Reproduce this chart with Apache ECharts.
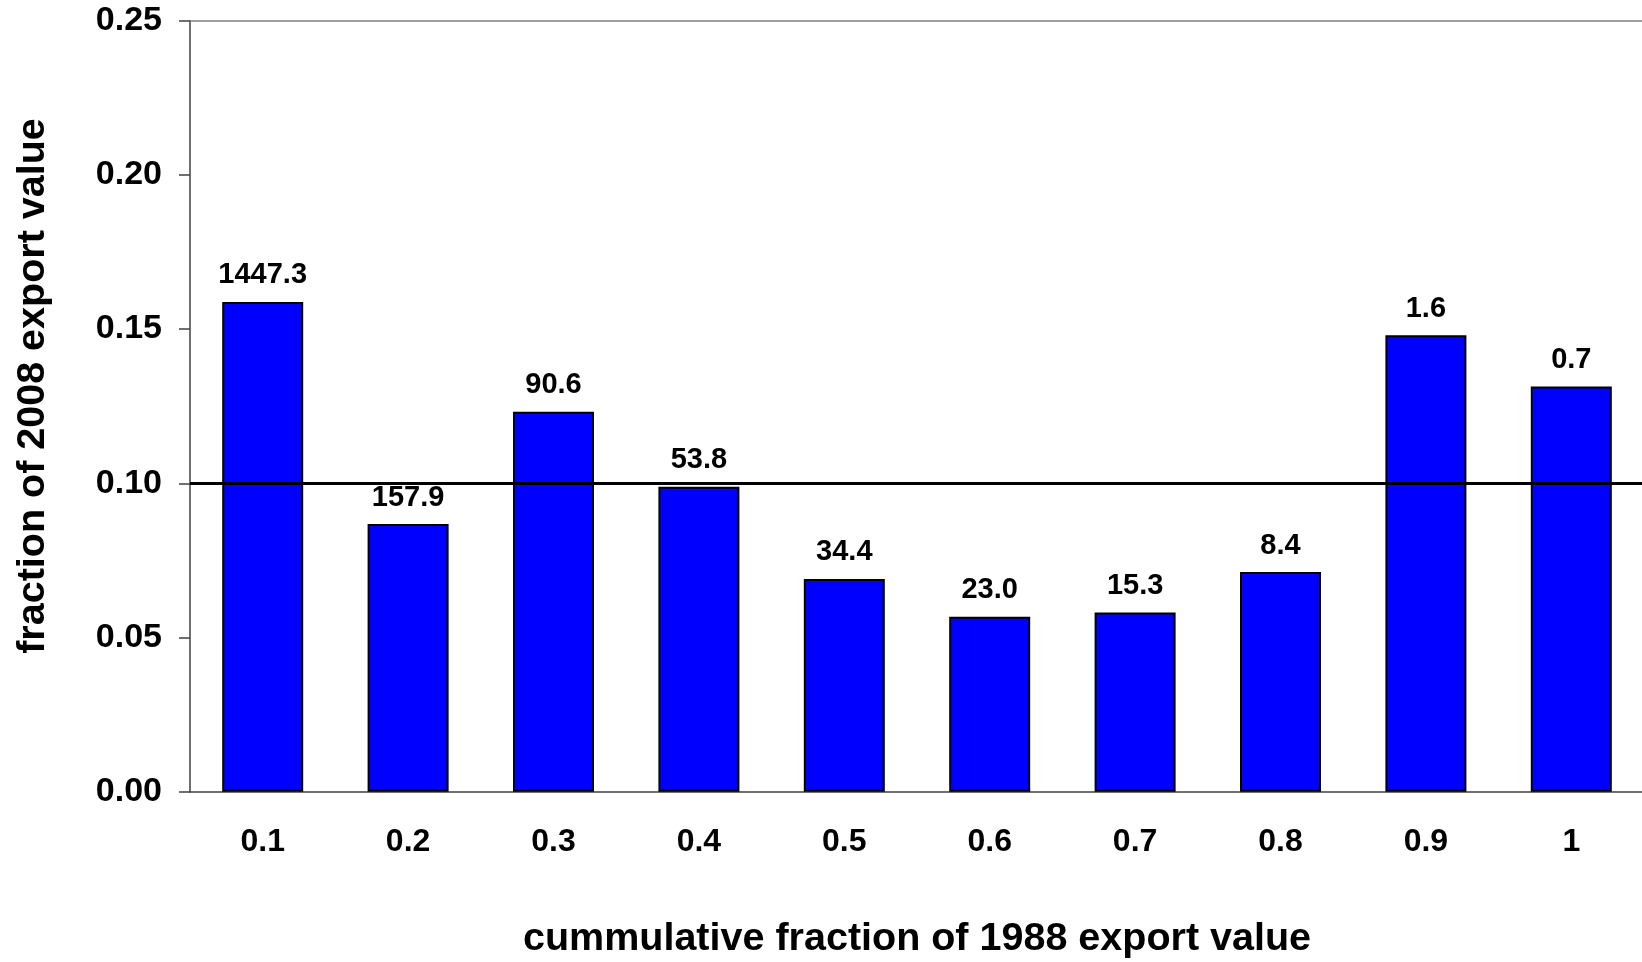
<!DOCTYPE html>
<html>
<head>
    <meta charset="UTF-8">
    <script src="https://cdn.jsdelivr.net/npm/echarts@6/dist/echarts.min.js"></script>
    <style>
        html, body { margin:0; padding:0; background:#fff; }
        #main { width:1642px; height:962px; }
    </style>
</head>
<body>
<div id="main"></div>
<script>
    // categories on the x axis
    var categories = ['0.1', '0.2', '0.3', '0.4', '0.5', '0.6', '0.7', '0.8', '0.9', '1'];
    // bar heights (fraction of 2008 export value)
    var values = [0.1588, 0.0868, 0.1232, 0.0989, 0.0690, 0.0567, 0.0581, 0.0712, 0.1480, 0.1314];
    // text written above each bar
    var barLabels = ['1447.3', '157.9', '90.6', '53.8', '34.4', '23.0', '15.3', '8.4', '1.6', '0.7'];
    var refLine = 0.10;

    var font = '"Liberation Sans", Arial, sans-serif';
    var chart = echarts.init(document.getElementById('main'));
    chart.setOption({
        animation: false,
        grid: { left: 190, top: 20.7, width: 1454, bottom: 170.3, containLabel: false, outerBoundsMode: 'none' },
        xAxis: [{
            type: 'category',
            data: categories,
            name: 'cummulative fraction of 1988 export value',
            nameLocation: 'middle',
            nameGap: 127,
            nameTextStyle: { fontFamily: font, fontWeight: 'bold', fontSize: 39.5, color: '#000' },
            axisLine: { lineStyle: { color: '#404040', width: 1.5 } },
            axisTick: { alignWithLabel: false, length: 10, lineStyle: { color: '#404040', width: 1.5 } },
            axisLabel: { margin: 34, fontFamily: font, fontWeight: 'bold', fontSize: 32, color: '#000' }
        }, {
            type: 'category',
            data: categories,
            position: 'top',
            axisLine: { lineStyle: { color: '#808080', width: 1.5 } },
            axisTick: { show: false },
            axisLabel: { show: false }
        }],
        yAxis: {
            type: 'value',
            min: 0,
            max: 0.25,
            interval: 0.05,
            axisLine: { show: true, lineStyle: { color: '#404040', width: 1.5 } },
            axisTick: { show: true, length: 11, lineStyle: { color: '#404040', width: 1.5 } },
            splitLine: { show: false },
            axisLabel: {
                margin: 28, fontFamily: font, fontWeight: 'bold', fontSize: 34, color: '#000',
                formatter: function (v) { return v.toFixed(2); }
            }
        },
        graphic: [{
            type: 'text',
            x: 33,
            y: 386,
            rotation: Math.PI / 2,
            style: {
                text: 'fraction of 2008 export value',
                fontFamily: font, fontWeight: 'bold', fontSize: 39.5, fill: '#000',
                textAlign: 'center', textVerticalAlign: 'middle'
            }
        }],
        series: [{
            type: 'bar',
            data: values,
            barWidth: 81,
            itemStyle: { color: '#0000ff', borderColor: '#000', borderWidth: 2 },
            label: {
                show: true,
                position: 'top',
                distance: 12,
                fontFamily: font, fontWeight: 'bold', fontSize: 29, color: '#000',
                formatter: function (p) { return barLabels[p.dataIndex]; }
            },
            markLine: {
                silent: true,
                symbol: 'none',
                label: { show: false },
                lineStyle: { color: '#000', width: 3, type: 'solid' },
                data: [{ yAxis: refLine }]
            }
        }]
    });
</script>
</body>
</html>
